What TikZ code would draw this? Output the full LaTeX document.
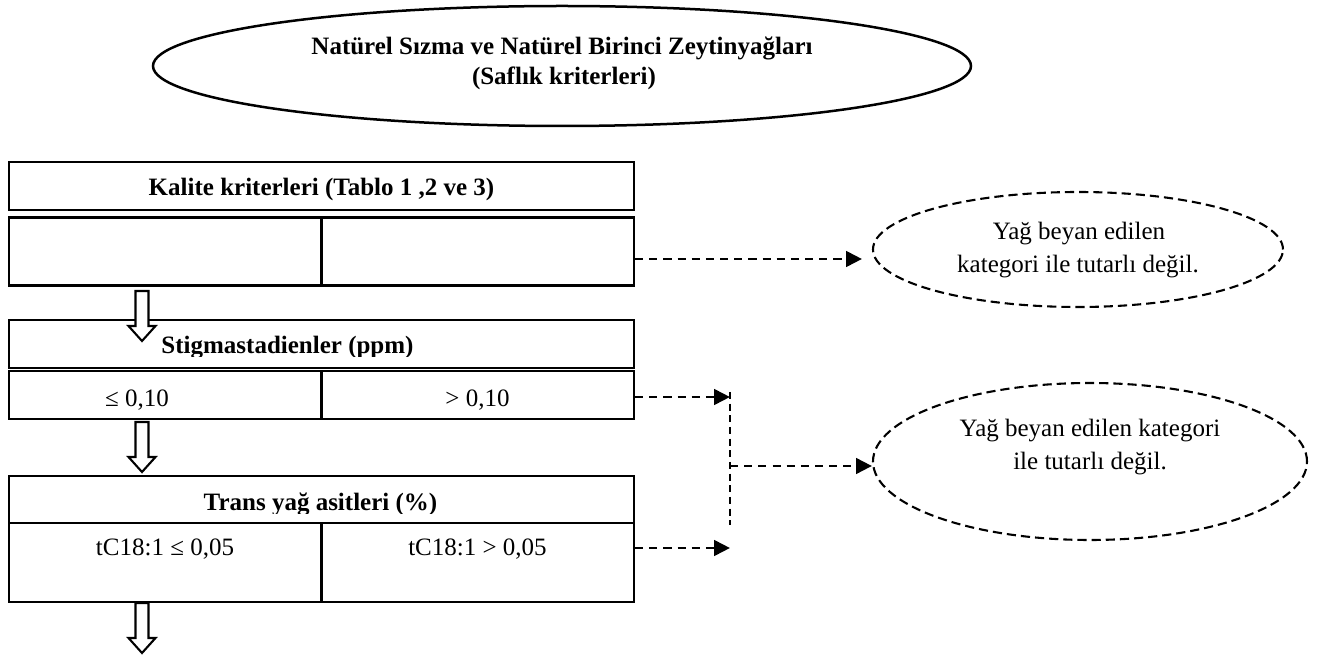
\documentclass[tikz,border=0pt]{standalone}
\usepackage{fontspec}
\setmainfont{Liberation Serif}
\usetikzlibrary{shapes.geometric,arrows.meta}

% hollow block arrow pointing down: #1 = x, #2 = top y, #3 = tip y
\newcommand\hollowdown[3]{%
  \draw[blockarrow] (#1-6.5,#2) -- (#1+6.5,#2) -- (#1+6.5,#3-15) -- (#1+13.5,#3-15)
    -- (#1,#3) -- (#1-13.5,#3-15) -- (#1-6.5,#3-15) -- cycle;}

\begin{document}
\begin{tikzpicture}[x=0.48pt,y=-0.48pt,
  font=\fontsize{12}{14.4}\selectfont,
  cell/.style={draw, line width=1pt, rectangle, inner sep=0pt},
  txt/.style={anchor=base, inner sep=0pt},
  bold/.style={txt, font=\fontsize{12}{14.4}\selectfont\bfseries},
  blockarrow/.style={draw, line width=1pt, fill=white},
  dconn/.style={line width=1.4pt, dash pattern=on 3.9pt off 2.9pt,
    -{Triangle[length=7.6pt, width=7.4pt]}},
  thindash/.style={line width=0.7pt, dash pattern=on 3.4pt off 2.2pt},
  outcome/.style={ellipse, draw, line width=1pt, dash pattern=on 4.4pt off 2.4pt, inner sep=0pt}
]
\useasboundingbox (0,0) rectangle (1331,655);

% title ellipse
\node[ellipse, draw, line width=1.2pt, inner sep=0pt,
  minimum width=818*0.48pt, minimum height=120*0.48pt] (title) at (562,66) {};
\node[bold] (t1) at (562,55) {Natürel Sızma ve Natürel Birinci Zeytinyağları};
\node[bold] (t2) at (564,85) {(Saflık kriterleri)};

% quality criteria
\node[cell, minimum width=625*0.48pt, minimum height=48*0.48pt] (kal) at (321.5,186) {};
\node[bold] (kalT) at (321.5,196) {Kalite kriterleri (Tablo 1 ,2 ve 3)};
\node[cell, minimum width=312.5*0.48pt, minimum height=68*0.48pt] (kalL) at (165.25,251.5) {};
\node[cell, minimum width=312.5*0.48pt, minimum height=68*0.48pt] (kalR) at (477.75,251.5) {};

% stigmastadienes
\node[cell, minimum width=625*0.48pt, minimum height=48*0.48pt] (stig) at (321.5,344) {};
\begin{scope}
  \clip (9,320) rectangle (634,357);
  \node[bold] (stigT) at (287.5,354) {Stigmastadienler (ppm)};
\end{scope}
\node[cell, minimum width=312.5*0.48pt, minimum height=48*0.48pt] (stigL) at (165.25,395) {};
\node[cell, minimum width=312.5*0.48pt, minimum height=48*0.48pt] (stigR) at (477.75,395) {};
\node[txt] (stigLT) at (137,407) {≤ 0,10};
\node[txt] (stigRT) at (477.5,407) {> 0,10};

% trans fatty acids
\node[cell, minimum width=625*0.48pt, minimum height=47*0.48pt] (trans) at (321.5,499.5) {};
\begin{scope}
  \clip (9,476) rectangle (634,514);
  \node[bold] (transT) at (320.5,511) {Trans yağ asitleri (\%)};
\end{scope}
\node[cell, minimum width=312.5*0.48pt, minimum height=79*0.48pt] (transL) at (165.25,562.5) {};
\node[cell, minimum width=312.5*0.48pt, minimum height=79*0.48pt] (transR) at (477.75,562.5) {};
\node[txt] (transLT) at (165,556) {tC18:1 ≤ 0,05};
\node[txt] (transRT) at (477.5,556) {tC18:1 > 0,05};

% flow arrows between the stages
\hollowdown{142}{291}{341}
\hollowdown{142}{422}{472}
\hollowdown{142}{603}{653}

% outcome ellipses
\node[outcome, minimum width=410*0.48pt, minimum height=115*0.48pt] (ell1) at (1078,249.5) {};
\node[txt] (e1a) at (1079,240) {Yağ beyan edilen};
\node[txt] (e1b) at (1078,273) {kategori ile tutarlı değil.};
\node[outcome, minimum width=434*0.48pt, minimum height=157*0.48pt] (ell2) at (1090,461.5) {};
\node[txt] (e2a) at (1090,437) {Yağ beyan edilen kategori};
\node[txt] (e2b) at (1090,470) {ile tutarlı değil.};

% dashed connectors
\coordinate (c1) at (862,259);
\coordinate (j1) at (730,397);
\coordinate (j2) at (730,548);
\coordinate (v1) at (730,392);
\coordinate (v2) at (730,525);
\coordinate (j3) at (730,466);
\draw[dconn] (kalR.east |- c1) -- (c1);
\draw[dconn] (stigR.east |- j1) -- (j1);
\draw[dconn] (transR.east |- j2) -- (j2);
\draw[thindash] (v1) -- (v2);
\draw[dconn] (j3) -- (j3 -| ell2.west);
\end{tikzpicture}
\end{document}
